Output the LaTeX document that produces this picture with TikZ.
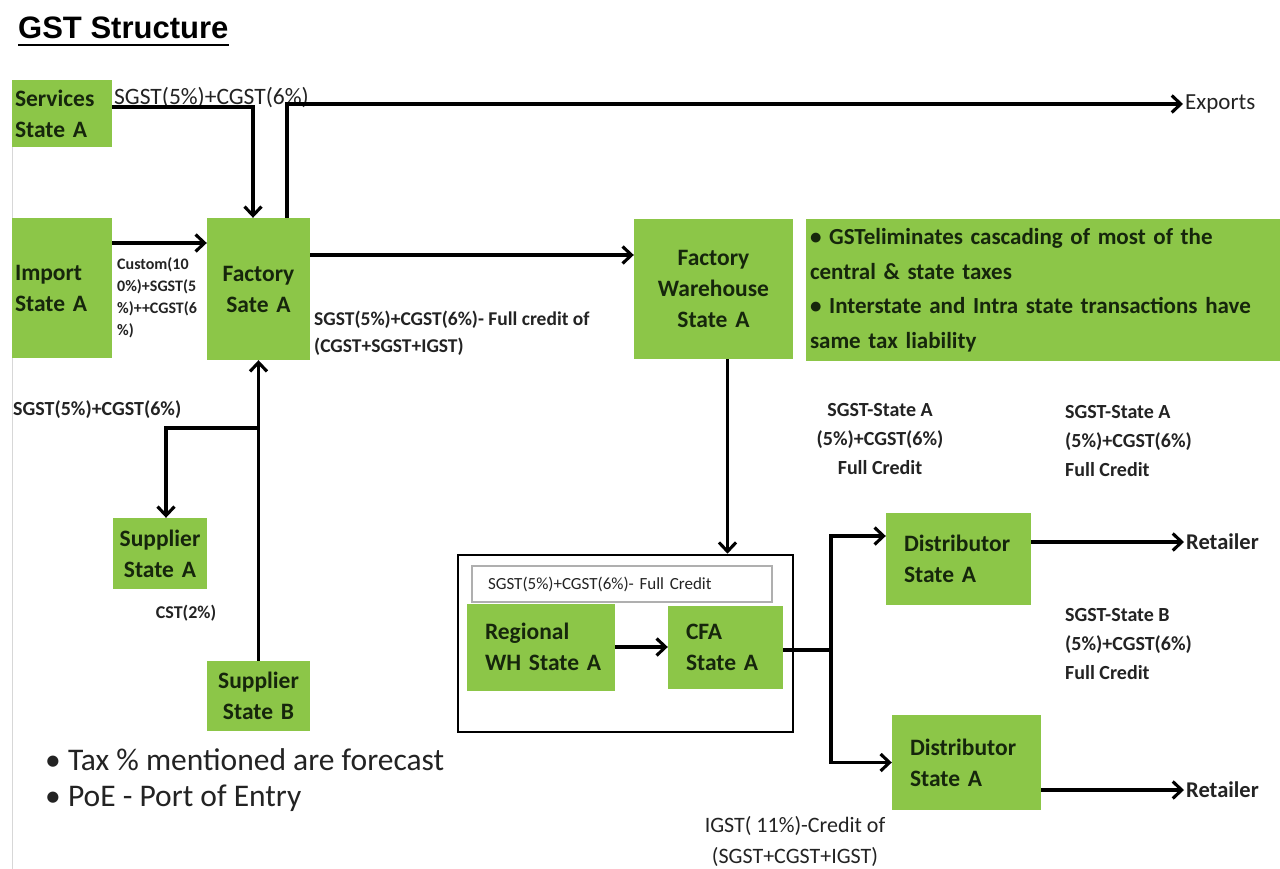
\documentclass[tikz,border=0pt]{standalone}
\usepackage{fontspec}
\setmainfont{Carlito}
\newfontfamily\titlefont{Liberation Sans}
\usetikzlibrary{arrows.meta,calc}
\definecolor{boxgreen}{RGB}{140,198,72}
\definecolor{boxtext}{RGB}{22,38,12}
\definecolor{lbltext}{RGB}{35,35,35}
\definecolor{credgray}{RGB}{175,175,175}
\definecolor{edgegray}{RGB}{215,215,215}
\newcommand{\fsz}[2]{\fontsize{#1}{#2}\selectfont}
\begin{document}
\begin{tikzpicture}[x=1pt,y=-1pt,
  gbox/.style={fill=boxgreen, text=boxtext, font=\fsz{23.5}{31}\bfseries, inner sep=0pt},
  sz/.style 2 args={minimum width=#1pt, minimum height=#2pt},
  lbl/.style={text=lbltext, inner sep=0pt},
  conn/.style={line width=3.1pt, black},
  arr/.style={conn, -{Straight Barb[length=9pt,width=17pt]}},
]
\useasboundingbox (0,0) rectangle (1280,869);
\fill[white] (0,0) rectangle (1280,869);
\draw[edgegray, line width=1pt] (12.5,147) -- (12.5,869);

% title
\node[lbl, anchor=base west, font=\titlefont\fsz{31}{36}\bfseries, text=black] (title) at (18,39) {GST Structure};
\draw[line width=2.4pt] ([yshift=-6pt]title.base west) -- ([yshift=-6pt]title.base east);

% green boxes
\node[gbox, sz={100}{67}, text width=94pt, align=left] (serv) at (62,113.5) {Services\\State~A};
\node[gbox, sz={100}{140}, text width=94pt, align=left] (imp) at (62,288) {Import\\State~A};
\node[gbox, sz={103}{142}, text width=100pt, align=center] (fac) at (258.5,289) {Factory\\Sate~A};
\node[gbox, sz={159}{140}, text width=155pt, align=center] (wh) at (713.5,289) {Factory\\Warehouse\\State~A};
\node[gbox, sz={474}{142}, text width=466pt, align=left, font=\fsz{23}{34.5}\bfseries] (info) at (1043,290)
  {• GSTeliminates cascading of most of the\\central \& state taxes\\• Interstate and Intra state transactions have\\same tax liability};
\node[gbox, sz={94}{71}, text width=92pt, align=center] (supA) at (160,553.5) {Supplier\\State~A};
\node[gbox, sz={103}{70}, text width=100pt, align=center] (supB) at (258.5,696) {Supplier\\State~B};

% group box
\node[draw=black, line width=2.6pt, sz={335}{177}, inner sep=0pt] (grp) at (625.5,643.5) {};
\node[draw=credgray, line width=2pt, fill=white, sz={300}{36}, inner sep=0pt, text width=268pt, align=left, text=lbltext, font=\fsz{17}{20}] (cred) at (622,584) {SGST(5\%)+CGST(6\%)- Full Credit};
\node[gbox, sz={148}{87}, text width=112pt, align=left] (reg) at (541,647) {Regional\\WH~State~A};
\node[gbox, sz={115}{83}, text width=79pt, align=left] (cfa) at (725.5,647) {CFA\\State~A};
\node[gbox, sz={145}{92}, text width=109pt, align=left] (d1) at (958.5,559) {Distributor\\State~A};
\node[gbox, sz={149}{95}, text width=113pt, align=left] (d2) at (966.5,762.5) {Distributor\\State~A};

% text labels
\node[lbl, anchor=west, font=\fsz{23.5}{26}] (lbltop) at (114,98) {SGST(5\%)+CGST(6\%)};
\node[lbl, anchor=west, font=\fsz{23}{26}, inner xsep=2pt] (exports) at (1183,104) {Exports};
\node[lbl, anchor=west, align=left, font=\fsz{16}{22}\bfseries] (lblcustom) at (117,298) {Custom(10\\0\%)+SGST(5\\\%)++CGST(6\\\%)};
\node[lbl, anchor=west, align=left, font=\fsz{19.5}{27}\bfseries] (lblfull) at (314,333) {SGST(5\%)+CGST(6\%)- Full credit of\\(CGST+SGST+IGST)};
\node[lbl, anchor=west, font=\fsz{20}{24}\bfseries] (lblleft) at (13,410) {SGST(5\%)+CGST(6\%)};
\node[lbl, font=\fsz{18}{22}\bfseries] (lblcst) at (186,613) {CST(2\%)};
\node[lbl, align=center, font=\fsz{20}{29}\bfseries] (lbla1) at (880,439) {SGST-State A\\(5\%)+CGST(6\%)\\Full Credit};
\node[lbl, anchor=west, align=left, font=\fsz{20}{29}\bfseries] (lbla2) at (1065,441) {SGST-State A\\(5\%)+CGST(6\%)\\Full Credit};
\node[lbl, anchor=west, align=left, font=\fsz{20}{29}\bfseries] (lblb) at (1065,644) {SGST-State B\\(5\%)+CGST(6\%)\\Full Credit};
\node[lbl, align=center, font=\fsz{22}{31}] (lbligst) at (795,841) {IGST( 11\%)-Credit of\\(SGST+CGST+IGST)};
\node[lbl, anchor=west, align=left, font=\fsz{31.5}{36}] (notes) at (45,780) {• Tax \% mentioned are forecast\\• PoE - Port of Entry};
\node[lbl, anchor=west, font=\fsz{22.5}{26}\bfseries, inner xsep=2pt] (ret1) at (1184,542) {Retailer};
\node[lbl, anchor=west, font=\fsz{22.5}{26}\bfseries, inner xsep=2pt] (ret2) at (1184,790) {Retailer};

% connectors
\draw[arr] (serv.east |- 0,107) -| ([xshift=-5.5pt]fac.north);
\coordinate (facup) at ([xshift=28.5pt]fac.north);
\draw[arr] (facup) |- (exports.west);
\draw[arr] (imp.east |- 0,243) -- (fac.west |- 0,243);
\draw[arr] (fac.east |- 0,255) -- (wh.west |- 0,255);
\coordinate (whd) at ([xshift=14pt]wh.south);
\draw[arr] (whd) -- (whd |- grp.north);
\draw[arr] (supB.north) -- (fac.south);
\coordinate (br) at (fac.south |- 0,428);
\draw[arr] (br) -| ([xshift=6pt]supA.north);
\draw[arr] (reg.east) -- (cfa.west);
\coordinate (jn) at (831,650);
\draw[conn] (cfa.east |- jn) -- (jn);
\draw[arr] (jn) |- ([yshift=23pt]d1.west);
\draw[arr] (jn) |- (d2.west);
\draw[arr] (d1.east |- 0,542) -- (ret1.west);
\draw[arr] (d2.east |- 0,790) -- (ret2.west);
\end{tikzpicture}
\end{document}
